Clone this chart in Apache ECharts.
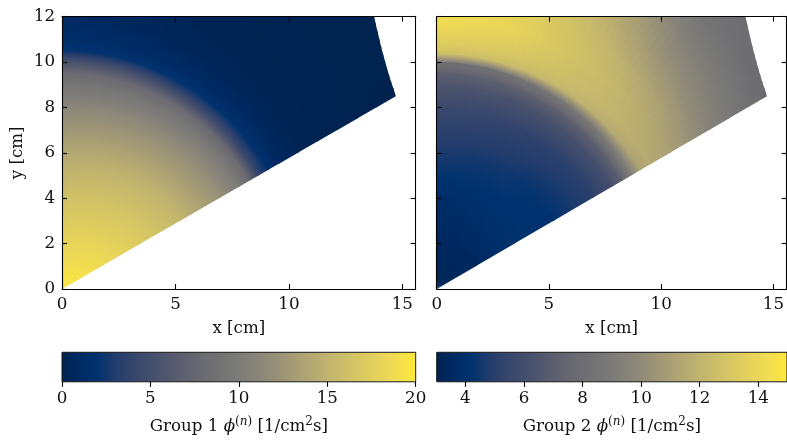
<!DOCTYPE html>
<html><head><meta charset="utf-8">
<script src="https://cdn.jsdelivr.net/npm/echarts@6/dist/echarts.min.js"></script>
<style>html,body{margin:0;padding:0;background:#fff}#c{width:787px;height:442px}</style>
</head><body><div id="c"></div>
<script>
// ---------------- data ----------------
// polar sample nodes of the flux field
const radii  = [0, 2, 4, 6, 8, 9, 9.5, 10, 10.5, 11, 12, 13, 14, 15, 16, 17, 18.5]; // cm
const angles = [30, 45, 60, 75, 90]; // degrees
// Group 1 flux at each radius, one array per angle
const group1At30 = [19.8, 18.6, 17.1, 15.2, 12.2, 10.0, 8.0, 4.0, 1.8, 0.9, 0.35, 0.2, 0.15, 0.1, 0.05, 0.05, 0.05];
const group1At45 = [19.8, 18.5, 16.9, 14.9, 11.9, 9.8, 8.0, 4.4, 1.9, 1.0, 0.4, 0.25, 0.2, 0.15, 0.1, 0.1, 0.1];
const group1At60 = [19.8, 18.3, 16.6, 14.6, 11.7, 9.6, 8.0, 4.8, 2.0, 1.1, 0.5, 0.3, 0.25, 0.2, 0.15, 0.1, 0.1];
const group1At75 = [19.8, 18.1, 16.4, 14.3, 11.4, 9.4, 8.0, 5.2, 2.1, 1.3, 0.7, 0.5, 0.4, 0.3, 0.3, 0.2, 0.2];
const group1At90 = [19.8, 18.0, 16.2, 14.0, 11.2, 9.2, 8.0, 5.5, 2.2, 1.5, 0.9, 0.8, 0.7, 0.6, 0.5, 0.5, 0.5];
// Group 2 flux
const group2At30 = [3.3, 3.5, 4.2, 4.2, 5.0, 6.0, 7.0, 9.0, 11.1, 11.5, 11.0, 10.3, 9.5, 8.9, 8.3, 7.8, 7.5];
const group2At45 = [3.3, 3.5, 4.1, 4.3, 5.1, 6.1, 7.0, 8.8, 11.7, 12.0, 11.9, 11.4, 10.6, 9.8, 9.1, 8.5, 8.0];
const group2At60 = [3.3, 3.5, 4.0, 4.5, 5.3, 6.2, 7.0, 8.5, 12.2, 12.6, 12.8, 12.6, 12.2, 11.8, 11.4, 11.0, 11.0];
const group2At75 = [3.3, 3.5, 3.9, 4.6, 5.5, 6.3, 7.0, 8.2, 12.6, 13.2, 13.9, 13.8, 13.6, 13.4, 13.2, 13.0, 13.0];
const group2At90 = [3.3, 3.5, 3.8, 4.7, 5.6, 6.4, 7.0, 8.0, 12.8, 13.5, 14.3, 14.5, 14.5, 14.5, 14.5, 14.5, 14.5];
// outer (curved) edge of the domain, cm
const boundaryX = [15.04, 14.71, 14.55, 14.39, 14.25, 14.11, 13.99, 13.87, 13.76, 13.66];
const boundaryY = [7.60, 8.50, 9.00, 9.50, 10.00, 10.50, 11.00, 11.50, 12.00, 12.50];
// axes
const xRange = [0, 15.59];
const yRange = [0, 12];
const xTicks = [0, 5, 10, 15];
const yTicks = [0, 2, 4, 6, 8, 10, 12];
const range1 = [0, 20];
const range2 = [3.02, 14.98];
const cb1Ticks = [0, 5, 10, 15, 20];
const cb2Ticks = [4, 6, 8, 10, 12, 14];

// ---------------- colour map (cividis) ----------------
const cividis = ['#00224e', '#002a63', '#00326f', '#213c6c', '#35456c', '#434e6c', '#52576d', '#5f616f',
  '#6b6b71', '#737374', '#7c7b78', '#888479', '#958f78', '#a49b75', '#b2a772', '#c0b46e', '#cdbf68',
  '#dac961', '#e7d45a', '#f2de4f', '#fee838'];
function colorOf(v, rng) {
  let t = (v - rng[0]) / (rng[1] - rng[0]);
  t = Math.max(0, Math.min(1, t));
  return echarts.color.lerp(t, cividis);
}

const group1 = [group1At30, group1At45, group1At60, group1At75, group1At90];
const group2 = [group2At30, group2At45, group2At60, group2At75, group2At90];

function nodeValueAt(grid, ri, th) {
  let a = (th - angles[0]) / (angles[1] - angles[0]);
  a = Math.max(0, Math.min(angles.length - 1, a));
  const ai = Math.min(angles.length - 2, Math.floor(a));
  const f = a - ai;
  return grid[ai][ri] * (1 - f) + grid[ai + 1][ri] * f;
}

function cross(ax, ay, bx, by) { return ax * by - ay * bx; }
function outerR(th) {
  const dx = Math.cos(th * Math.PI / 180), dy = Math.sin(th * Math.PI / 180);
  for (let k = 0; k < boundaryX.length - 1; k++) {
    const px = boundaryX[k], py = boundaryY[k];
    const ex = boundaryX[k + 1] - px, ey = boundaryY[k + 1] - py;
    const den = cross(dx, dy, ex, ey);
    if (Math.abs(den) < 1e-12) continue;
    const t = cross(px, py, ex, ey) / den;
    const s = cross(px, py, dx, dy) / den;
    if (s >= -1e-9 && s <= 1 + 1e-9 && t > 0) return t;
  }
  return 99;
}

const PX = 22.69; // px per cm (both axes)
const thSpan = angles[angles.length - 1] - angles[0];
const cellData = [];
for (let i = 0; i < radii.length - 1; i++) {
  const n = Math.max(6, Math.round(60 * radii[i + 1] / 18.5));
  for (let j = 0; j < n; j++) cellData.push([i, j, n]);
}

function makeFieldRender(grid, rng) {
  return function (params, api) {
    const i = api.value(0), j = api.value(1), n = api.value(2);
    const dTh = thSpan / n;
    const ra = radii[i], rb = radii[i + 1];
    const ov = ra > 0 ? Math.max(0.3, (1.6 / (ra * PX)) * 180 / Math.PI) : 4;
    const thA = angles[0] + j * dTh;
    const thB = thA + dTh + ov;
    const thM = thA + dTh / 2;
    const rbx = i < radii.length - 2 ? rb + 0.08 : rb;
    const pol = (r, th) => api.coord([r * Math.cos(th * Math.PI / 180), r * Math.sin(th * Math.PI / 180)]);
    const m = Math.max(2, Math.ceil((thB - thA) / 0.5));
    const inner = [], outer = [];
    let any = false;
    for (let k = 0; k <= m; k++) {
      const th = thA + (thB - thA) * k / m;
      const R = outerR(th);
      if (ra < R) any = true;
      inner.push(pol(Math.min(ra, R), th));
      outer.push(pol(Math.min(rbx, R), th));
    }
    if (!any) return null;
    const pts = inner.concat(outer.reverse());
    const c = api.coord([0, 0]);
    const rpx = api.size([rbx, 0])[0];
    const va = nodeValueAt(grid, i, thM), vb = nodeValueAt(grid, i + 1, thM);
    const stops = [];
    const ns = 6;
    for (let k = 0; k <= ns; k++) {
      const r = ra + (rb - ra) * k / ns;
      stops.push({ offset: Math.min(1, r / rbx), color: colorOf(va + (vb - va) * k / ns, rng) });
    }
    return {
      type: 'polygon',
      shape: { points: pts },
      style: { fill: new echarts.graphic.RadialGradient(c[0], c[1], rpx, stops, true), stroke: null }
    };
  };
}

function makeBarRender(rng) {
  return function (params, api) {
    const p0 = api.coord([rng[0], 1]);
    const p1 = api.coord([rng[1], 0]);
    const stops = cividis.map((col, k) => ({ offset: k / (cividis.length - 1), color: col }));
    return {
      type: 'rect',
      shape: { x: p0[0], y: p0[1], width: p1[0] - p0[0], height: p1[1] - p0[1] },
      style: { fill: new echarts.graphic.LinearGradient(0, 0, 1, 0, stops), stroke: '#1a1a1a', lineWidth: 1 }
    };
  };
}

// ---------------- layout ----------------
const FONT = 'DejaVu Serif';
const FS = 16.7;
const TXT = '#111';
const panelW = 353.7, panelH = 272.3, panelTop = 16.7;
const leftA = 62, leftB = 436.7;
const cbTop = 352.3, cbH = 29.5;

function frameAxis(dim, gridIndex, position, min, max, ticks, showLabels, name) {
  const ax = {
    type: 'value', gridIndex, position, min, max, z: 10,
    axisLine: { show: true, onZero: false, lineStyle: { color: '#000', width: 1.1 } },
    axisTick: { show: true, inside: true, length: 5, customValues: ticks, lineStyle: { color: '#000', width: 1.1 } },
    axisLabel: { show: showLabels, customValues: ticks, margin: dim === 'x' ? 7 : 7, color: TXT, fontSize: FS, fontFamily: FONT },
    splitLine: { show: false }
  };
  if (name) {
    ax.name = name;
    ax.nameLocation = 'middle';
    ax.nameTextStyle = { color: TXT, fontSize: FS, fontFamily: FONT };
    if (dim === 'x') { ax.nameGap = 31; } else { ax.nameGap = 36; ax.nameRotate = 90; }
  }
  return ax;
}

const richName = () => ({
  rich: {
    t: { fontSize: FS, fontFamily: FONT, color: TXT, lineHeight: 20 },
    ph: { fontSize: FS, fontFamily: FONT, fontStyle: 'italic', color: TXT, lineHeight: 20 },
    s: { fontSize: 12, fontFamily: FONT, color: TXT, lineHeight: 12, padding: [0, 0, 10, 0] },
    si: { fontSize: 12, fontFamily: FONT, fontStyle: 'italic', color: TXT, lineHeight: 12, padding: [0, 0, 10, 0] }
  }
});

function cbAxis(gridIndex, rng, ticks, label) {
  return {
    type: 'value', gridIndex, position: 'bottom', min: rng[0], max: rng[1], z: 10,
    axisLine: { show: false },
    axisTick: { show: true, inside: false, length: 5, customValues: ticks, lineStyle: { color: '#000', width: 1.1 } },
    axisLabel: { show: true, customValues: ticks, margin: 8, color: TXT, fontSize: FS, fontFamily: FONT },
    splitLine: { show: false },
    name: label, nameLocation: 'middle', nameGap: 35,
    nameTextStyle: richName()
  };
}

const option = {
  animation: false,
  backgroundColor: '#fff',
  grid: [
    { left: leftA, top: panelTop, width: panelW, height: panelH },
    { left: leftB, top: panelTop, width: panelW, height: panelH },
    { left: leftA, top: cbTop, width: panelW, height: cbH },
    { left: leftB, top: cbTop, width: panelW, height: cbH }
  ],
  xAxis: [
    frameAxis('x', 0, 'bottom', xRange[0], xRange[1], xTicks, true, 'x [cm]'),
    frameAxis('x', 0, 'top', xRange[0], xRange[1], xTicks, false),
    frameAxis('x', 1, 'bottom', xRange[0], xRange[1], xTicks, true, 'x [cm]'),
    frameAxis('x', 1, 'top', xRange[0], xRange[1], xTicks, false),
    cbAxis(2, range1, cb1Ticks, '{t|Group 1 }{ph|ϕ}{s|(}{si|n}{s|)}{t| [1/cm}{s|2}{t|s]}'),
    cbAxis(3, range2, cb2Ticks, '{t|Group 2 }{ph|ϕ}{s|(}{si|n}{s|)}{t| [1/cm}{s|2}{t|s]}')
  ],
  yAxis: [
    frameAxis('y', 0, 'left', yRange[0], yRange[1], yTicks, true, 'y [cm]'),
    frameAxis('y', 0, 'right', yRange[0], yRange[1], yTicks, false),
    frameAxis('y', 1, 'left', yRange[0], yRange[1], yTicks, false),
    frameAxis('y', 1, 'right', yRange[0], yRange[1], yTicks, false),
    { type: 'value', gridIndex: 2, min: 0, max: 1, show: false },
    { type: 'value', gridIndex: 3, min: 0, max: 1, show: false }
  ],
  series: [
    { type: 'custom', xAxisIndex: 0, yAxisIndex: 0, clip: true, progressive: 0, silent: true,
      renderItem: makeFieldRender(group1, range1), data: cellData, z: 1 },
    { type: 'custom', xAxisIndex: 2, yAxisIndex: 2, clip: true, progressive: 0, silent: true,
      renderItem: makeFieldRender(group2, range2), data: cellData, z: 1 },
    { type: 'custom', xAxisIndex: 4, yAxisIndex: 4, silent: true,
      renderItem: makeBarRender(range1), data: [[range1[0], 0]] },
    { type: 'custom', xAxisIndex: 5, yAxisIndex: 5, silent: true,
      renderItem: makeBarRender(range2), data: [[range2[0], 0]] }
  ]
};

const chart = echarts.init(document.getElementById('c'), null, { renderer: 'canvas' });
chart.setOption(option);
</script>
</body></html>
